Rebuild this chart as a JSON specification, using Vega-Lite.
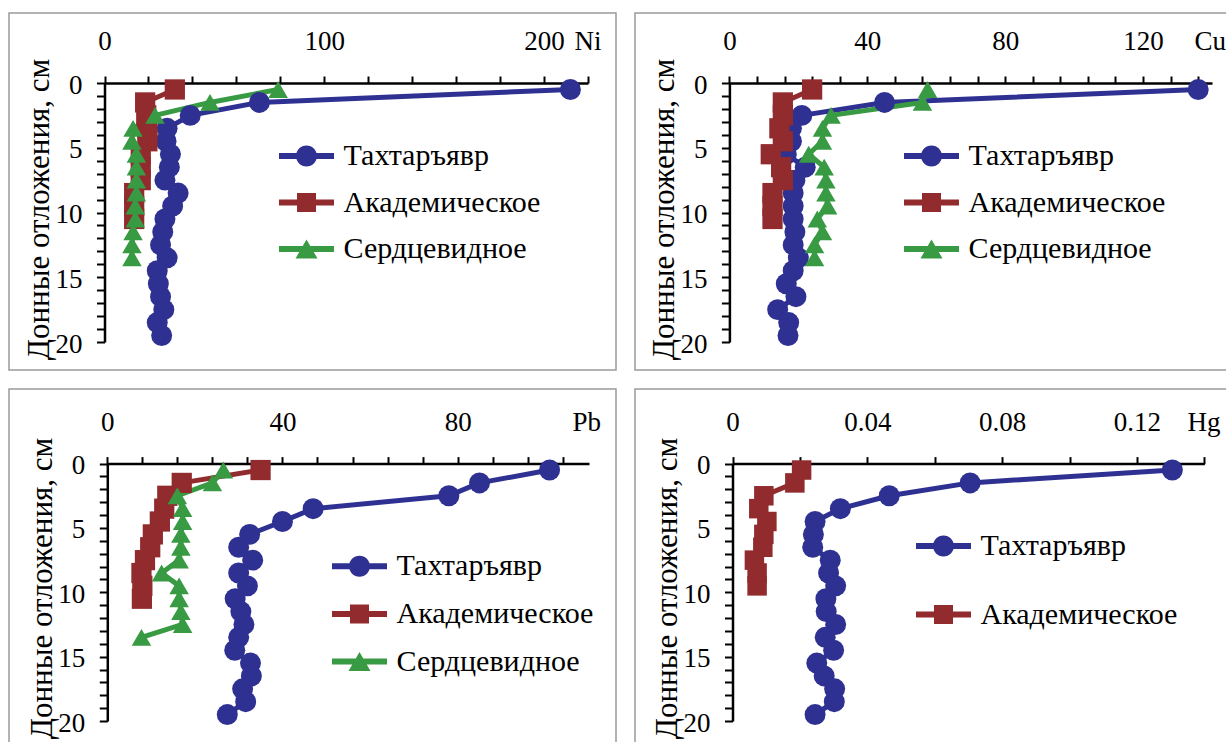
{
  "$schema": "https://vega.github.io/schema/vega-lite/v6.json",
  "background": "white",
  "padding": {"left": 8, "top": 12, "right": 0, "bottom": 0},
  "config": {
    "font": "'Liberation Serif', 'DejaVu Serif', serif",
    "view": {"stroke": null},
    "axis": {
      "grid": false, "domainColor": "black", "domainWidth": 2.5, "tickColor": "black", "tickWidth": 2,
      "labelFont": "'Liberation Serif', 'DejaVu Serif', serif", "labelFontSize": 27, "labelColor": "black", "labelFlush": false, "labelOverlap": false, "labelBound": false,
      "titleFont": "'Liberation Serif', 'DejaVu Serif', serif", "titleFontWeight": "normal", "titleColor": "black"
    },
    "axisX": {"tickSize": 7, "labelPadding": 26.5, "labelBaseline": "alphabetic", "titleAlign": "left", "titleBaseline": "alphabetic", "titleY": -33.5, "titleFontSize": 27},
    "axisY": {"tickSize": 8, "labelPadding": 14.5, "labelBaseline": "middle", "labelAlign": "right", "labelOffset": 2, "titleX": -56, "titleBaseline": "alphabetic", "titleAngle": 270, "titleAlign": "center", "titleFontSize": 31},
    "legend": {"labelFont": "'Liberation Serif', 'DejaVu Serif', serif", "labelFontSize": 30, "labelColor": "black", "labelOffset": 22, "labelLimit": 400, "symbolSize": 400, "symbolStrokeWidth": 0, "padding": 0}
  },
  "data": {"values": [
    {"el":"Ni","lake":"Тахтаръявр","depth":0.5,"v":212},{"el":"Ni","lake":"Тахтаръявр","depth":1.5,"v":70.5},{"el":"Ni","lake":"Тахтаръявр","depth":2.5,"v":39},{"el":"Ni","lake":"Тахтаръявр","depth":3.5,"v":28.5},{"el":"Ni","lake":"Тахтаръявр","depth":4.5,"v":28},{"el":"Ni","lake":"Тахтаръявр","depth":5.5,"v":30},{"el":"Ni","lake":"Тахтаръявр","depth":6.5,"v":29.5},{"el":"Ni","lake":"Тахтаръявр","depth":7.5,"v":27.5},{"el":"Ni","lake":"Тахтаръявр","depth":8.5,"v":33.5},{"el":"Ni","lake":"Тахтаръявр","depth":9.5,"v":31},{"el":"Ni","lake":"Тахтаръявр","depth":10.5,"v":27.5},{"el":"Ni","lake":"Тахтаръявр","depth":11.5,"v":26.5},{"el":"Ni","lake":"Тахтаръявр","depth":12.5,"v":25.5},{"el":"Ni","lake":"Тахтаръявр","depth":13.5,"v":28.5},{"el":"Ni","lake":"Тахтаръявр","depth":14.5,"v":24},{"el":"Ni","lake":"Тахтаръявр","depth":15.5,"v":24.5},{"el":"Ni","lake":"Тахтаръявр","depth":16.5,"v":25.5},{"el":"Ni","lake":"Тахтаръявр","depth":17.5,"v":27},{"el":"Ni","lake":"Тахтаръявр","depth":18.5,"v":24},{"el":"Ni","lake":"Тахтаръявр","depth":19.5,"v":26},
    {"el":"Ni","lake":"Академическое","depth":0.5,"v":32},{"el":"Ni","lake":"Академическое","depth":1.5,"v":18.5},{"el":"Ni","lake":"Академическое","depth":2.5,"v":19},{"el":"Ni","lake":"Академическое","depth":3.5,"v":19.5},{"el":"Ni","lake":"Академическое","depth":4.5,"v":19.5},{"el":"Ni","lake":"Академическое","depth":5.5,"v":16.5},{"el":"Ni","lake":"Академическое","depth":6.5,"v":16.5},{"el":"Ni","lake":"Академическое","depth":7.5,"v":16.5},{"el":"Ni","lake":"Академическое","depth":8.5,"v":13.5},{"el":"Ni","lake":"Академическое","depth":9.5,"v":13.5},{"el":"Ni","lake":"Академическое","depth":10.5,"v":13.5},
    {"el":"Ni","lake":"Сердцевидное","depth":0.5,"v":79},{"el":"Ni","lake":"Сердцевидное","depth":1.5,"v":48},{"el":"Ni","lake":"Сердцевидное","depth":2.5,"v":23},{"el":"Ni","lake":"Сердцевидное","depth":3.5,"v":13},{"el":"Ni","lake":"Сердцевидное","depth":4.5,"v":12.5},{"el":"Ni","lake":"Сердцевидное","depth":5.5,"v":14.5},{"el":"Ni","lake":"Сердцевидное","depth":6.5,"v":14.5},{"el":"Ni","lake":"Сердцевидное","depth":7.5,"v":14.5},{"el":"Ni","lake":"Сердцевидное","depth":8.5,"v":14.5},{"el":"Ni","lake":"Сердцевидное","depth":9.5,"v":14},{"el":"Ni","lake":"Сердцевидное","depth":10.5,"v":14},{"el":"Ni","lake":"Сердцевидное","depth":11.5,"v":13},{"el":"Ni","lake":"Сердцевидное","depth":12.5,"v":12.5},{"el":"Ni","lake":"Сердцевидное","depth":13.5,"v":12.5},
    {"el":"Cu","lake":"Тахтаръявр","depth":0.5,"v":136},{"el":"Cu","lake":"Тахтаръявр","depth":1.5,"v":45},{"el":"Cu","lake":"Тахтаръявр","depth":2.5,"v":21},{"el":"Cu","lake":"Тахтаръявр","depth":3.5,"v":18},{"el":"Cu","lake":"Тахтаръявр","depth":4.5,"v":18},{"el":"Cu","lake":"Тахтаръявр","depth":5.5,"v":16.5},{"el":"Cu","lake":"Тахтаръявр","depth":6.5,"v":22},{"el":"Cu","lake":"Тахтаръявр","depth":7.5,"v":19},{"el":"Cu","lake":"Тахтаръявр","depth":8.5,"v":18.5},{"el":"Cu","lake":"Тахтаръявр","depth":9.5,"v":18.5},{"el":"Cu","lake":"Тахтаръявр","depth":10.5,"v":18.5},{"el":"Cu","lake":"Тахтаръявр","depth":11.5,"v":19},{"el":"Cu","lake":"Тахтаръявр","depth":12.5,"v":18.5},{"el":"Cu","lake":"Тахтаръявр","depth":13.5,"v":20},{"el":"Cu","lake":"Тахтаръявр","depth":14.5,"v":18.5},{"el":"Cu","lake":"Тахтаръявр","depth":15.5,"v":16.5},{"el":"Cu","lake":"Тахтаръявр","depth":16.5,"v":19.3},{"el":"Cu","lake":"Тахтаръявр","depth":17.5,"v":14},{"el":"Cu","lake":"Тахтаръявр","depth":18.5,"v":17.2},{"el":"Cu","lake":"Тахтаръявр","depth":19.5,"v":17},
    {"el":"Cu","lake":"Академическое","depth":0.5,"v":24},{"el":"Cu","lake":"Академическое","depth":1.5,"v":15.5},{"el":"Cu","lake":"Академическое","depth":2.5,"v":15.5},{"el":"Cu","lake":"Академическое","depth":3.5,"v":14.5},{"el":"Cu","lake":"Академическое","depth":4.5,"v":15.5},{"el":"Cu","lake":"Академическое","depth":5.5,"v":12},{"el":"Cu","lake":"Академическое","depth":6.5,"v":15},{"el":"Cu","lake":"Академическое","depth":7.5,"v":15.5},{"el":"Cu","lake":"Академическое","depth":8.5,"v":12.5},{"el":"Cu","lake":"Академическое","depth":9.5,"v":12.5},{"el":"Cu","lake":"Академическое","depth":10.5,"v":12.5},
    {"el":"Cu","lake":"Сердцевидное","depth":0.5,"v":57.5},{"el":"Cu","lake":"Сердцевидное","depth":1.5,"v":56},{"el":"Cu","lake":"Сердцевидное","depth":2.5,"v":29.5},{"el":"Cu","lake":"Сердцевидное","depth":3.5,"v":27},{"el":"Cu","lake":"Сердцевидное","depth":4.5,"v":27},{"el":"Cu","lake":"Сердцевидное","depth":5.5,"v":23},{"el":"Cu","lake":"Сердцевидное","depth":6.5,"v":27.5},{"el":"Cu","lake":"Сердцевидное","depth":7.5,"v":28},{"el":"Cu","lake":"Сердцевидное","depth":8.5,"v":28},{"el":"Cu","lake":"Сердцевидное","depth":9.5,"v":28.5},{"el":"Cu","lake":"Сердцевидное","depth":10.5,"v":25.5},{"el":"Cu","lake":"Сердцевидное","depth":11.5,"v":27},{"el":"Cu","lake":"Сердцевидное","depth":12.5,"v":24.7},{"el":"Cu","lake":"Сердцевидное","depth":13.5,"v":24.7},
    {"el":"Pb","lake":"Тахтаръявр","depth":0.5,"v":101},{"el":"Pb","lake":"Тахтаръявр","depth":1.5,"v":85},{"el":"Pb","lake":"Тахтаръявр","depth":2.5,"v":78},{"el":"Pb","lake":"Тахтаръявр","depth":3.5,"v":47},{"el":"Pb","lake":"Тахтаръявр","depth":4.5,"v":40},{"el":"Pb","lake":"Тахтаръявр","depth":5.5,"v":32.5},{"el":"Pb","lake":"Тахтаръявр","depth":6.5,"v":30},{"el":"Pb","lake":"Тахтаръявр","depth":7.5,"v":33.2},{"el":"Pb","lake":"Тахтаръявр","depth":8.5,"v":30},{"el":"Pb","lake":"Тахтаръявр","depth":9.5,"v":32},{"el":"Pb","lake":"Тахтаръявр","depth":10.5,"v":29.2},{"el":"Pb","lake":"Тахтаръявр","depth":11.5,"v":30.5},{"el":"Pb","lake":"Тахтаръявр","depth":12.5,"v":31.2},{"el":"Pb","lake":"Тахтаръявр","depth":13.5,"v":30},{"el":"Pb","lake":"Тахтаръявр","depth":14.5,"v":29.1},{"el":"Pb","lake":"Тахтаръявр","depth":15.5,"v":32.7},{"el":"Pb","lake":"Тахтаръявр","depth":16.5,"v":32.9},{"el":"Pb","lake":"Тахтаръявр","depth":17.5,"v":30.9},{"el":"Pb","lake":"Тахтаръявр","depth":18.5,"v":31.6},{"el":"Pb","lake":"Тахтаръявр","depth":19.5,"v":27.4},
    {"el":"Pb","lake":"Академическое","depth":0.5,"v":35},{"el":"Pb","lake":"Академическое","depth":1.5,"v":17},{"el":"Pb","lake":"Академическое","depth":2.5,"v":13.7},{"el":"Pb","lake":"Академическое","depth":3.5,"v":13},{"el":"Pb","lake":"Академическое","depth":4.5,"v":12},{"el":"Pb","lake":"Академическое","depth":5.5,"v":10.4},{"el":"Pb","lake":"Академическое","depth":6.5,"v":9.8},{"el":"Pb","lake":"Академическое","depth":7.5,"v":8.6},{"el":"Pb","lake":"Академическое","depth":8.5,"v":7.8},{"el":"Pb","lake":"Академическое","depth":9.5,"v":8},{"el":"Pb","lake":"Академическое","depth":10.5,"v":7.9},
    {"el":"Pb","lake":"Сердцевидное","depth":0.5,"v":26.5},{"el":"Pb","lake":"Сердцевидное","depth":1.5,"v":24},{"el":"Pb","lake":"Сердцевидное","depth":2.5,"v":16},{"el":"Pb","lake":"Сердцевидное","depth":3.5,"v":17.2},{"el":"Pb","lake":"Сердцевидное","depth":4.5,"v":17.2},{"el":"Pb","lake":"Сердцевидное","depth":5.5,"v":16.8},{"el":"Pb","lake":"Сердцевидное","depth":6.5,"v":16.8},{"el":"Pb","lake":"Сердцевидное","depth":7.5,"v":16.4},{"el":"Pb","lake":"Сердцевидное","depth":8.5,"v":12.4},{"el":"Pb","lake":"Сердцевидное","depth":9.5,"v":16.4},{"el":"Pb","lake":"Сердцевидное","depth":10.5,"v":16.4},{"el":"Pb","lake":"Сердцевидное","depth":11.5,"v":16.8},{"el":"Pb","lake":"Сердцевидное","depth":12.5,"v":17.2},{"el":"Pb","lake":"Сердцевидное","depth":13.5,"v":7.8},
    {"el":"Hg","lake":"Тахтаръявр","depth":0.5,"v":0.1305},{"el":"Hg","lake":"Тахтаръявр","depth":1.5,"v":0.0705},{"el":"Hg","lake":"Тахтаръявр","depth":2.5,"v":0.0465},{"el":"Hg","lake":"Тахтаръявр","depth":3.5,"v":0.032},{"el":"Hg","lake":"Тахтаръявр","depth":4.5,"v":0.0245},{"el":"Hg","lake":"Тахтаръявр","depth":5.5,"v":0.024},{"el":"Hg","lake":"Тахтаръявр","depth":6.5,"v":0.0238},{"el":"Hg","lake":"Тахтаръявр","depth":7.5,"v":0.029},{"el":"Hg","lake":"Тахтаръявр","depth":8.5,"v":0.0285},{"el":"Hg","lake":"Тахтаръявр","depth":9.5,"v":0.0306},{"el":"Hg","lake":"Тахтаръявр","depth":10.5,"v":0.0277},{"el":"Hg","lake":"Тахтаръявр","depth":11.5,"v":0.0278},{"el":"Hg","lake":"Тахтаръявр","depth":12.5,"v":0.0306},{"el":"Hg","lake":"Тахтаръявр","depth":13.5,"v":0.0275},{"el":"Hg","lake":"Тахтаръявр","depth":14.5,"v":0.03},{"el":"Hg","lake":"Тахтаръявр","depth":15.5,"v":0.025},{"el":"Hg","lake":"Тахтаръявр","depth":16.5,"v":0.0272},{"el":"Hg","lake":"Тахтаръявр","depth":17.5,"v":0.0303},{"el":"Hg","lake":"Тахтаръявр","depth":18.5,"v":0.0302},{"el":"Hg","lake":"Тахтаръявр","depth":19.5,"v":0.0245},
    {"el":"Hg","lake":"Академическое","depth":0.5,"v":0.0205},{"el":"Hg","lake":"Академическое","depth":1.5,"v":0.0185},{"el":"Hg","lake":"Академическое","depth":2.5,"v":0.0093},{"el":"Hg","lake":"Академическое","depth":3.5,"v":0.0078},{"el":"Hg","lake":"Академическое","depth":4.5,"v":0.0102},{"el":"Hg","lake":"Академическое","depth":5.5,"v":0.0093},{"el":"Hg","lake":"Академическое","depth":6.5,"v":0.009},{"el":"Hg","lake":"Академическое","depth":7.5,"v":0.0065},{"el":"Hg","lake":"Академическое","depth":8.5,"v":0.0073},{"el":"Hg","lake":"Академическое","depth":9.5,"v":0.0073}
  ]},
  "spacing": 17,
  "resolve": {"scale": {"color": "independent", "shape": "independent", "size": "independent"}, "legend": {"color": "independent", "shape": "independent", "size": "independent"}},
  "vconcat": [
    {
      "spacing": 17,
      "resolve": {"scale": {"color": "independent", "shape": "independent", "size": "independent"}, "legend": {"color": "independent", "shape": "independent", "size": "independent"}},
      "hconcat": [
        {
          "width": 607, "height": 357,
          "view": {"stroke": "#9a9a9a", "strokeWidth": 1.5, "fill": "white"},
          "transform": [{"filter": "datum.el === 'Ni'"}],
          "encoding": {
            "x": {"field": "v", "type": "quantitative", "scale": {"domain": [0, 220], "range": [95.5, 579], "nice": false, "zero": false},
                  "axis": {"orient": "top", "offset": -70, "values": [0,20,40,60,80,100,120,140,160,180,200,220], "labelExpr": "datum.value % 100 === 0 ? datum.label : ''", "title": "Ni", "titleX": 565}},
            "y": {"field": "depth", "type": "quantitative", "scale": {"domain": [0, 20], "range": [70, 329], "nice": false, "zero": false},
                  "axis": {"orient": "left", "offset": -95.5, "values": [0,1,2,3,4,5,6,7,8,9,10,11,12,13,14,15,16,17,18,19,20], "labelExpr": "datum.value % 5 === 0 ? datum.label : ''", "title": "Донные отложения, см", "titleY": 196}}
          },
          "resolve": {"scale": {"color": "independent", "shape": "independent", "size": "independent"}, "legend": {"color": "independent", "shape": "independent", "size": "independent"}},
          "layer": [
            {"mark": {"type": "line", "strokeWidth": 5, "strokeJoin": "round", "strokeCap": "round"},
             "encoding": {"color": {"field": "lake", "type": "nominal", "scale": {"domain": ["Тахтаръявр", "Академическое", "Сердцевидное"], "range": ["#2E3192", "#922B2E", "#389A43"]}, "legend": null},
                          "order": {"field": "depth", "type": "quantitative"}}},
            {"mark": {"type": "point", "filled": true, "opacity": 1, "strokeWidth": 0},
             "encoding": {"color": {"field": "lake", "type": "nominal", "scale": {"domain": ["Тахтаръявр", "Академическое", "Сердцевидное"], "range": ["#2E3192", "#922B2E", "#389A43"]}, "legend": null},
                          "shape": {"field": "lake", "type": "nominal", "scale": {"domain": ["Тахтаръявр", "Академическое", "Сердцевидное"], "range": ["circle", "square", "triangle-up"]}, "legend": null},
                          "size": {"field": "lake", "type": "nominal", "scale": {"domain": ["Тахтаръявр", "Академическое", "Сердцевидное"], "range": [440, 380, 500]}, "legend": null}}},
            {"transform": [{"filter": "false"}],
             "mark": {"type": "point", "filled": true, "opacity": 1, "strokeWidth": 0},
             "encoding": {"color": {"field": "lake", "type": "nominal", "scale": {"domain": ["Тахтаръявр", "Академическое", "Сердцевидное"], "range": ["#2E3192", "#922B2E", "#389A43"]},
                                    "legend": {"title": null, "orient": "none", "legendX": 282.5, "legendY": 128, "rowPadding": 16.5}},
                          "shape": {"field": "lake", "type": "nominal", "scale": {"domain": ["Тахтаръявр", "Академическое", "Сердцевидное"], "range": ["M-2.75,-0.3H2.75V0.3H-2.75Z M1.05,0A1.05,1.05,0,1,1,-1.05,0A1.05,1.05,0,1,1,1.05,0Z", "M-2.75,-0.3H2.75V0.3H-2.75Z M-0.95,-0.95H0.95V0.95H-0.95Z", "M-2.75,-0.3H2.75V0.3H-2.75Z M0,-0.95L1.1,0.95H-1.1Z"]},
                                    "legend": {"title": null, "orient": "none", "legendX": 282.5, "legendY": 128, "rowPadding": 16.5}}}}
          ]
        },
        {
          "width": 593, "height": 357,
          "view": {"stroke": "#9a9a9a", "strokeWidth": 1.5, "fill": "white"},
          "transform": [{"filter": "datum.el === 'Cu'"}],
          "encoding": {
            "x": {"field": "v", "type": "quantitative", "scale": {"domain": [0, 140], "range": [94.4, 577], "nice": false, "zero": false},
                  "axis": {"orient": "top", "offset": -70, "values": [0,8,16,24,32,40,48,56,64,72,80,88,96,104,112,120,128,136], "labelExpr": "datum.value % 40 === 0 ? datum.label : ''", "title": "Cu", "titleX": 559}},
            "y": {"field": "depth", "type": "quantitative", "scale": {"domain": [0, 20], "range": [70, 329], "nice": false, "zero": false},
                  "axis": {"orient": "left", "offset": -94.4, "values": [0,1,2,3,4,5,6,7,8,9,10,11,12,13,14,15,16,17,18,19,20], "labelExpr": "datum.value % 5 === 0 ? datum.label : ''", "title": "Донные отложения, см", "titleY": 196}}
          },
          "resolve": {"scale": {"color": "independent", "shape": "independent", "size": "independent"}, "legend": {"color": "independent", "shape": "independent", "size": "independent"}},
          "layer": [
            {"mark": {"type": "line", "strokeWidth": 5, "strokeJoin": "round", "strokeCap": "round"},
             "encoding": {"color": {"field": "lake", "type": "nominal", "scale": {"domain": ["Тахтаръявр", "Академическое", "Сердцевидное"], "range": ["#2E3192", "#922B2E", "#389A43"]}, "legend": null},
                          "order": {"field": "depth", "type": "quantitative"}}},
            {"mark": {"type": "point", "filled": true, "opacity": 1, "strokeWidth": 0},
             "encoding": {"color": {"field": "lake", "type": "nominal", "scale": {"domain": ["Тахтаръявр", "Академическое", "Сердцевидное"], "range": ["#2E3192", "#922B2E", "#389A43"]}, "legend": null},
                          "shape": {"field": "lake", "type": "nominal", "scale": {"domain": ["Тахтаръявр", "Академическое", "Сердцевидное"], "range": ["circle", "square", "triangle-up"]}, "legend": null},
                          "size": {"field": "lake", "type": "nominal", "scale": {"domain": ["Тахтаръявр", "Академическое", "Сердцевидное"], "range": [440, 380, 500]}, "legend": null}}},
            {"transform": [{"filter": "false"}],
             "mark": {"type": "point", "filled": true, "opacity": 1, "strokeWidth": 0},
             "encoding": {"color": {"field": "lake", "type": "nominal", "scale": {"domain": ["Тахтаръявр", "Академическое", "Сердцевидное"], "range": ["#2E3192", "#922B2E", "#389A43"]},
                                    "legend": {"title": null, "orient": "none", "legendX": 281.5, "legendY": 128, "rowPadding": 16.5}},
                          "shape": {"field": "lake", "type": "nominal", "scale": {"domain": ["Тахтаръявр", "Академическое", "Сердцевидное"], "range": ["M-2.75,-0.3H2.75V0.3H-2.75Z M1.05,0A1.05,1.05,0,1,1,-1.05,0A1.05,1.05,0,1,1,1.05,0Z", "M-2.75,-0.3H2.75V0.3H-2.75Z M-0.95,-0.95H0.95V0.95H-0.95Z", "M-2.75,-0.3H2.75V0.3H-2.75Z M0,-0.95L1.1,0.95H-1.1Z"]},
                                    "legend": {"title": null, "orient": "none", "legendX": 281.5, "legendY": 128, "rowPadding": 16.5}}}}
          ]
        }
      ]
    },
    {
      "spacing": 17,
      "resolve": {"scale": {"color": "independent", "shape": "independent", "size": "independent"}, "legend": {"color": "independent", "shape": "independent", "size": "independent"}},
      "hconcat": [
        {
          "width": 607, "height": 355,
          "view": {"stroke": "#9a9a9a", "strokeWidth": 1.5, "fill": "white"},
          "transform": [{"filter": "datum.el === 'Pb'"}],
          "encoding": {
            "x": {"field": "v", "type": "quantitative", "scale": {"domain": [0, 110], "range": [98.3, 580], "nice": false, "zero": false},
                  "axis": {"orient": "top", "offset": -74.6, "values": [0,8,16,24,32,40,48,56,64,72,80,88,96,104], "labelExpr": "datum.value % 40 === 0 ? datum.label : ''", "title": "Pb", "titleX": 563}},
            "y": {"field": "depth", "type": "quantitative", "scale": {"domain": [0, 20], "range": [74.6, 332], "nice": false, "zero": false},
                  "axis": {"orient": "left", "offset": -98.3, "values": [0,1,2,3,4,5,6,7,8,9,10,11,12,13,14,15,16,17,18,19,20], "labelExpr": "datum.value % 5 === 0 ? datum.label : ''", "title": "Донные отложения, см", "titleY": 199}}
          },
          "resolve": {"scale": {"color": "independent", "shape": "independent", "size": "independent"}, "legend": {"color": "independent", "shape": "independent", "size": "independent"}},
          "layer": [
            {"mark": {"type": "line", "strokeWidth": 5, "strokeJoin": "round", "strokeCap": "round"},
             "encoding": {"color": {"field": "lake", "type": "nominal", "scale": {"domain": ["Тахтаръявр", "Академическое", "Сердцевидное"], "range": ["#2E3192", "#922B2E", "#389A43"]}, "legend": null},
                          "order": {"field": "depth", "type": "quantitative"}}},
            {"mark": {"type": "point", "filled": true, "opacity": 1, "strokeWidth": 0},
             "encoding": {"color": {"field": "lake", "type": "nominal", "scale": {"domain": ["Тахтаръявр", "Академическое", "Сердцевидное"], "range": ["#2E3192", "#922B2E", "#389A43"]}, "legend": null},
                          "shape": {"field": "lake", "type": "nominal", "scale": {"domain": ["Тахтаръявр", "Академическое", "Сердцевидное"], "range": ["circle", "square", "triangle-up"]}, "legend": null},
                          "size": {"field": "lake", "type": "nominal", "scale": {"domain": ["Тахтаръявр", "Академическое", "Сердцевидное"], "range": [440, 380, 500]}, "legend": null}}},
            {"transform": [{"filter": "false"}],
             "mark": {"type": "point", "filled": true, "opacity": 1, "strokeWidth": 0},
             "encoding": {"color": {"field": "lake", "type": "nominal", "scale": {"domain": ["Тахтаръявр", "Академическое", "Сердцевидное"], "range": ["#2E3192", "#922B2E", "#389A43"]},
                                    "legend": {"title": null, "orient": "none", "legendX": 335.5, "legendY": 162.3, "rowPadding": 17.6}},
                          "shape": {"field": "lake", "type": "nominal", "scale": {"domain": ["Тахтаръявр", "Академическое", "Сердцевидное"], "range": ["M-2.75,-0.3H2.75V0.3H-2.75Z M1.05,0A1.05,1.05,0,1,1,-1.05,0A1.05,1.05,0,1,1,1.05,0Z", "M-2.75,-0.3H2.75V0.3H-2.75Z M-0.95,-0.95H0.95V0.95H-0.95Z", "M-2.75,-0.3H2.75V0.3H-2.75Z M0,-0.95L1.1,0.95H-1.1Z"]},
                                    "legend": {"title": null, "orient": "none", "legendX": 335.5, "legendY": 162.3, "rowPadding": 17.6}}}}
          ]
        },
        {
          "width": 593, "height": 355,
          "view": {"stroke": "#9a9a9a", "strokeWidth": 1.5, "fill": "white"},
          "transform": [{"filter": "datum.el === 'Hg'"}],
          "encoding": {
            "x": {"field": "v", "type": "quantitative", "scale": {"domain": [0, 0.14], "range": [97.5, 569.4], "nice": false, "zero": false},
                  "axis": {"orient": "top", "offset": -74.6, "values": [0,0.02,0.04,0.06,0.08,0.1,0.12,0.14], "format": ".2~f", "labelExpr": "round(datum.value * 100) % 4 === 0 ? datum.label : ''", "title": "Hg", "titleX": 552}},
            "y": {"field": "depth", "type": "quantitative", "scale": {"domain": [0, 20], "range": [74.6, 332], "nice": false, "zero": false},
                  "axis": {"orient": "left", "offset": -97.5, "values": [0,1,2,3,4,5,6,7,8,9,10,11,12,13,14,15,16,17,18,19,20], "labelExpr": "datum.value % 5 === 0 ? datum.label : ''", "title": "Донные отложения, см", "titleY": 199}}
          },
          "resolve": {"scale": {"color": "independent", "shape": "independent", "size": "independent"}, "legend": {"color": "independent", "shape": "independent", "size": "independent"}},
          "layer": [
            {"mark": {"type": "line", "strokeWidth": 5, "strokeJoin": "round", "strokeCap": "round"},
             "encoding": {"color": {"field": "lake", "type": "nominal", "scale": {"domain": ["Тахтаръявр", "Академическое"], "range": ["#2E3192", "#922B2E"]}, "legend": null},
                          "order": {"field": "depth", "type": "quantitative"}}},
            {"mark": {"type": "point", "filled": true, "opacity": 1, "strokeWidth": 0},
             "encoding": {"color": {"field": "lake", "type": "nominal", "scale": {"domain": ["Тахтаръявр", "Академическое"], "range": ["#2E3192", "#922B2E"]}, "legend": null},
                          "shape": {"field": "lake", "type": "nominal", "scale": {"domain": ["Тахтаръявр", "Академическое"], "range": ["circle", "square"]}, "legend": null},
                          "size": {"field": "lake", "type": "nominal", "scale": {"domain": ["Тахтаръявр", "Академическое"], "range": [440, 380]}, "legend": null}}},
            {"transform": [{"filter": "false"}],
             "mark": {"type": "point", "filled": true, "opacity": 1, "strokeWidth": 0},
             "encoding": {"color": {"field": "lake", "type": "nominal", "scale": {"domain": ["Тахтаръявр", "Академическое"], "range": ["#2E3192", "#922B2E"]},
                                    "legend": {"title": null, "orient": "none", "legendX": 293.5, "legendY": 142, "rowPadding": 38.5}},
                          "shape": {"field": "lake", "type": "nominal", "scale": {"domain": ["Тахтаръявр", "Академическое"], "range": ["M-2.75,-0.3H2.75V0.3H-2.75Z M1.05,0A1.05,1.05,0,1,1,-1.05,0A1.05,1.05,0,1,1,1.05,0Z", "M-2.75,-0.3H2.75V0.3H-2.75Z M-0.95,-0.95H0.95V0.95H-0.95Z"]},
                                    "legend": {"title": null, "orient": "none", "legendX": 293.5, "legendY": 142, "rowPadding": 38.5}}}}
          ]
        }
      ]
    }
  ]
}
